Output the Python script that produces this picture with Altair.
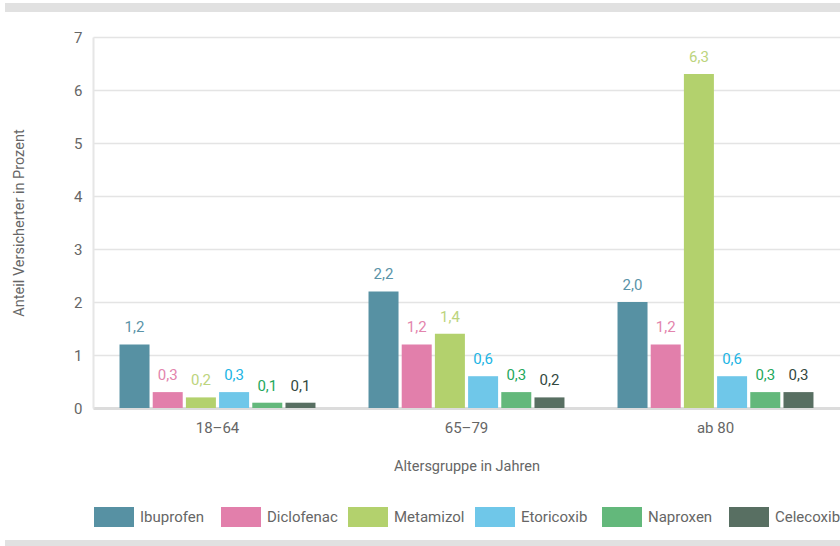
import altair as alt
import pandas as pd

# Share of insured persons per age group and active ingredient (percent)
age_groups = ["18–64", "65–79", "ab 80"]
drugs = ["Ibuprofen", "Diclofenac", "Metamizol", "Etoricoxib", "Naproxen", "Celecoxib"]
values_18_64 = [1.2, 0.3, 0.2, 0.3, 0.1, 0.1]
values_65_79 = [2.2, 1.2, 1.4, 0.6, 0.3, 0.2]
values_ab_80 = [2.0, 1.2, 6.3, 0.6, 0.3, 0.3]

bar_colors = ["#5791a3", "#e27fab", "#b3d16d", "#6fc7e9", "#63b87b", "#586f62"]
label_colors = ["#5a93a8", "#e384ad", "#bcd47d", "#22b4e4", "#1fa85c", "#33493f"]

rows = []
for group, vals in zip(age_groups, [values_18_64, values_65_79, values_ab_80]):
    for drug, val, lc in zip(drugs, vals, label_colors):
        rows.append({"group": group, "drug": drug, "value": val, "labelColor": lc})
df = pd.DataFrame(rows)

FONT = "Roboto"
TEXT_GRAY = "#666666"
PLOT_W, PLOT_H = 747, 371

base = alt.Chart(df).encode(
    x=alt.X(
        "group:N",
        sort=age_groups,
        scale=alt.Scale(paddingInner=0.213, paddingOuter=0.1065),
        axis=alt.Axis(
            title="Altersgruppe in Jahren",
            labelAngle=0,
            ticks=False,
            labelPadding=12,
            titlePadding=24,
            domainColor="#dcdcdc",
            domainWidth=3,
        ),
    ),
    xOffset=alt.XOffset("drug:N", sort=drugs, scale=alt.Scale(paddingInner=0.096, paddingOuter=0)),
    y=alt.Y(
        "value:Q",
        scale=alt.Scale(domain=[0, 7], nice=False),
        axis=alt.Axis(
            title="Anteil Versicherter in Prozent",
            values=list(range(8)),
            ticks=False,
            labelPadding=11,
            titlePadding=47,
            domainColor="#e6e6e6",
            domainWidth=2,
            gridColor="#e4e4e4",
            gridWidth=1.5,
        ),
    ),
)

bars = base.mark_bar().encode(
    color=alt.Color(
        "drug:N",
        sort=drugs,
        scale=alt.Scale(domain=drugs, range=bar_colors),
        legend=alt.Legend(
            title=None,
            orient="none",
            legendX=1,
            legendY=460,
            direction="horizontal",
            columns=6,
            gridAlign="all",
            columnPadding=10,
            symbolType="M-1,-0.5H1V0.5H-1Z",
            symbolSize=1600,
            symbolStrokeWidth=0,
            symbolOpacity=1,
            labelOffset=6,
            labelFontSize=15,
            labelColor=TEXT_GRAY,
            labelFont=FONT,
            padding=0,
        ),
    )
)

labels = base.transform_calculate(
    label="replace(format(datum.value, '.1f'), '.', ',')"
).mark_text(baseline="alphabetic", dy=-12, fontSize=15, font=FONT).encode(
    text="label:N",
    color=alt.Color("labelColor:N", scale=None),
)

# Light grey frame bands above and below the chart
top_band = alt.Chart(df).mark_rule(color="#e1e1e1", strokeWidth=9).encode(
    x=alt.value(-88), x2=alt.value(PLOT_W), y=alt.value(-29.5)
)
bottom_band = alt.Chart(df).mark_rule(color="#e1e1e1", strokeWidth=8).encode(
    x=alt.value(-88), x2=alt.value(PLOT_W), y=alt.value(507)
)

chart = (
    alt.layer(bars, labels, top_band, bottom_band)
    .properties(
        width=PLOT_W,
        height=PLOT_H,
        autosize=alt.AutoSizeParams(type="none"),
        padding={"left": 93, "top": 37, "right": 0, "bottom": 138},
    )
    .configure_view(stroke=None)
    .configure_axis(
        labelFont=FONT,
        titleFont=FONT,
        labelFontSize=15,
        titleFontSize=14.5,
        labelColor=TEXT_GRAY,
        titleColor=TEXT_GRAY,
        titleFontWeight="normal",
    )
    .configure_axisX(grid=False)
)

chart.save("out.html", embed_options={"renderer": "svg", "actions": False})
